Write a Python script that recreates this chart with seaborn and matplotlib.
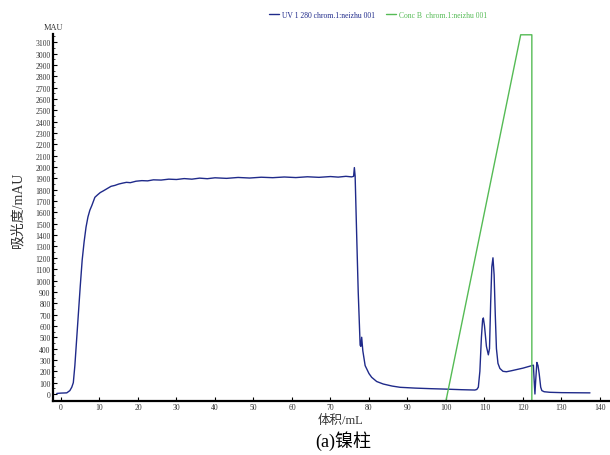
import matplotlib
matplotlib.use("Agg")
import matplotlib.pyplot as plt
from matplotlib.ticker import MultipleLocator
import seaborn as sns
import pandas as pd

# ---------------- data ----------------
uv_volume = [-1.1, 0.0, 1.5, 2.3, 2.8, 3.2, 3.6, 4.0, 4.5, 5.0, 5.5, 6.0, 6.5, 7.0,
             7.5, 8.0, 8.8, 9.5, 10.2, 11.0, 12.0, 13.0, 14.0, 15.0, 16.0, 17.0,
             18.0, 19.5, 21.0, 22.5, 24.0, 26.0, 28.0, 30.0, 32.0, 34.0, 36.0,
             38.0, 40.0, 43.0, 46.0, 49.0, 52.0, 55.0, 58.0, 61.0, 64.0, 67.0,
             70.0, 72.0, 74.0, 75.5, 76.0, 76.2, 76.4, 76.8, 77.2, 77.7, 77.9,
             78.1, 78.4, 79.0, 80.0, 80.7, 82.0, 83.7, 86.0, 88.1, 92.0, 96.0,
             100.0, 104.0, 107.5, 108.0, 108.4, 108.8, 109.2, 109.5, 109.7, 110.0,
             110.5, 111.0, 111.3, 111.6, 111.9, 112.2, 112.5, 112.8, 113.1, 113.5,
             114.0, 114.8, 115.7, 117.0, 120.0, 122.7, 122.9, 123.1, 123.3, 123.6,
             123.9, 124.2, 124.6, 124.9, 125.5, 127.0, 130.0, 137.4]
uv_mau = [5, 8, 10, 30, 60, 100, 250, 450, 700, 950, 1180, 1340, 1470, 1560,
          1620, 1660, 1733, 1755, 1775, 1790, 1810, 1830, 1838, 1850, 1858, 1865,
          1862, 1875, 1880, 1878, 1887, 1885, 1893, 1890, 1898, 1893, 1902,
          1897, 1905, 1900, 1908, 1903, 1910, 1906, 1912, 1907, 1914, 1909,
          1916, 1911, 1918, 1913, 1918, 1995, 1920, 1400, 900, 430, 420,
          500, 380, 250, 180, 147, 110, 88, 70, 59, 52, 47,
          43, 38, 35, 40, 60, 200, 500, 650, 670, 600,
          420, 345, 400, 800, 1120, 1200, 1050, 700, 400, 270,
          225, 200, 196, 205, 228, 254, 120, 0, 120, 278,
          250, 180, 60, 30, 20, 15, 12, 10]

concb_volume = [100.0, 119.4, 122.3, 122.3]
concb_level = [-59, 3165, 3165, -59]

uv_label = "UV 1 280 chrom.1:neizhu 001"
concb_label = "Conc B  chrom.1:neizhu 001"
x_ticks = list(range(0, 141, 10))
y_ticks = list(range(0, 3101, 100))

# ---------------- style ----------------
sns.set_style("ticks")
plt.rcParams["font.family"] = ["Liberation Serif", "Noto Sans CJK SC"]
plt.rcParams["axes.unicode_minus"] = False

blue = "#1f2a8a"
green = "#55bb55"

fig = plt.figure(figsize=(6.10, 4.56), dpi=100)
ax = fig.add_axes([53.3 / 610, 1 - 401.7 / 456, 1 - 53.3 / 610, (401.7 - 35) / 456])

uv_df = pd.DataFrame({"volume": uv_volume, "mau": uv_mau})
cb_df = pd.DataFrame({"volume": concb_volume, "level": concb_level})

sns.lineplot(data=uv_df, x="volume", y="mau", ax=ax, color=blue, lw=1.0,
             sort=False, estimator=None, label=uv_label, legend=False)
sns.lineplot(data=cb_df, x="volume", y="level", ax=ax, color=green, lw=1.0,
             sort=False, estimator=None, label=concb_label, legend=False)

ax.set_xlim(-2.0, 142.6)
ax.set_ylim(-59, 3172)
ax.set_xticks(x_ticks)
ax.set_yticks(y_ticks)
ax.yaxis.set_minor_locator(MultipleLocator(50))
ax.tick_params(axis="both", direction="in", labelsize=5.5, length=3, width=0.8,
               colors="black", pad=2)
ax.tick_params(axis="y", which="minor", direction="in", length=1.5, width=0.6)
ax.tick_params(axis="x", pad=2)
for lab in ax.get_xticklabels() + ax.get_yticklabels():
    lab.set_color("#333333")

for s in ["top", "right"]:
    ax.spines[s].set_visible(False)
for s in ["left", "bottom"]:
    ax.spines[s].set_linewidth(1.6)
    ax.spines[s].set_color("black")

ax.set_xlabel("")
ax.set_ylabel("")
fig.text(53 / 610, 1 - 28 / 456, "MAU", fontsize=6, ha="center", va="center",
         color="#333333")
fig.text(341 / 610, 1 - 421 / 456, "体积/mL", fontsize=9, ha="center", va="center",
         color="#333333")
fig.text(18 / 610, 1 - 210 / 456, "吸光度/mAU", fontsize=10, rotation=90,
         ha="center", va="center", color="#333333")
fig.text(343 / 610, 1 - 441 / 456, "(a)镍柱", fontsize=13, ha="center", va="center",
         color="black")

handles, labels = ax.get_legend_handles_labels()
fig.legend(handles, labels, loc="center", bbox_to_anchor=(378 / 610, 1 - 16 / 456),
           ncol=2, frameon=False, fontsize=5.5, labelcolor="linecolor",
           handlelength=1.3, handletextpad=0.4, columnspacing=1.5)

fig.savefig("out.png", dpi=100)
